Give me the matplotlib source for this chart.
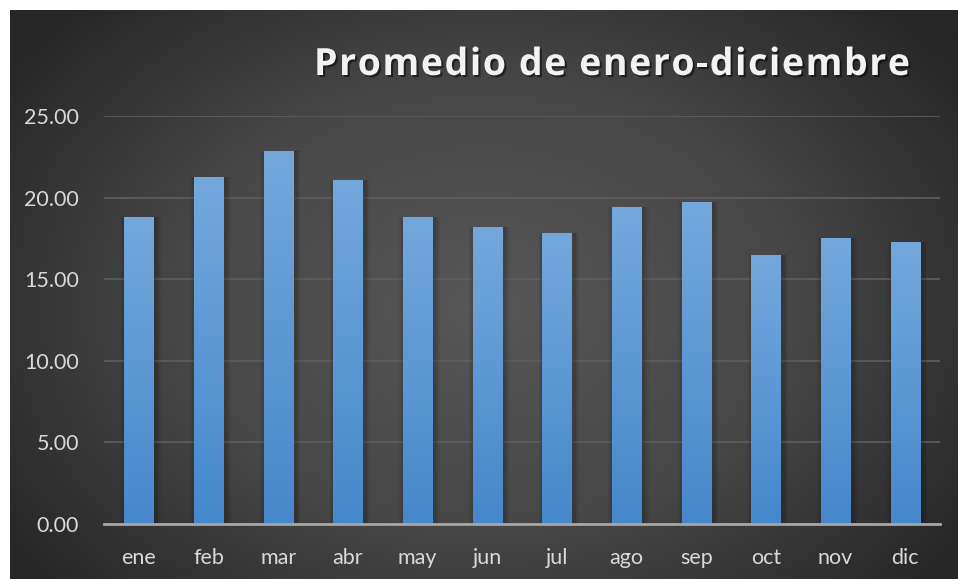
import numpy as np
import matplotlib
matplotlib.use("Agg")
import matplotlib.pyplot as plt
import matplotlib.patheffects as pe
from matplotlib import font_manager
from matplotlib.ft2font import FT2Font
from matplotlib.colors import LinearSegmentedColormap

# datos
meses = ["ene", "feb", "mar", "abr", "may", "jun", "jul", "ago", "sep", "oct", "nov", "dic"]
promedio = [18.81, 21.26, 22.86, 21.08, 18.81, 18.20, 17.83, 19.42, 19.73, 16.48, 17.52, 17.28]
titulo = "Promedio de enero-diciembre"
yticks = [0, 5, 10, 15, 20, 25]

W, H = 958, 579
fig = plt.figure(figsize=(W / 100, H / 100), dpi=100)
fig.patch.set_facecolor("white")

# fondo oscuro con degradado radial
bg = fig.add_axes([10 / W, 0, (W - 10) / W, (H - 10) / H])
bg.set_axis_off()
yy, xx = np.mgrid[0:1:300j, 0:1:500j]
r = np.sqrt(((xx - 0.5) / 0.62) ** 2 + ((yy - 0.52) / 0.75) ** 2)
r = np.clip(r, 0, 1)
cmap_bg = LinearSegmentedColormap.from_list("bg", ["#575757", "#484848", "#262626"])
bg.imshow(r, cmap=cmap_bg, aspect="auto", extent=[0, 1, 0, 1], vmin=0, vmax=1)
bg.set_xlim(0, 1)
bg.set_ylim(0, 1)

ax = fig.add_axes([104 / W, (H - 524) / H, (940 - 104) / W, (524 - 116) / H])
ax.patch.set_alpha(0)
x = np.arange(len(meses))
ancho = 0.42

# sombra de las barras
for k, a in [(0.16, 0.05), (0.11, 0.07), (0.06, 0.09)]:
    ax.bar(x + 0.03, promedio, width=ancho + k, color="black", alpha=a, zorder=2, linewidth=0)

barras = ax.bar(x, promedio, width=ancho, color="#5b9bd5", zorder=3, linewidth=0)
cmap_bar = LinearSegmentedColormap.from_list("bar", ["#4588cb", "#74a8dd"])
grad = np.linspace(0, 1, 256).reshape(-1, 1)
for b in barras:
    x0, y0 = b.get_x(), b.get_y()
    im = ax.imshow(grad, cmap=cmap_bar, origin="lower", aspect="auto",
                   extent=[x0, x0 + b.get_width(), y0, y0 + b.get_height()], zorder=4)
    im.set_clip_path(b)

ax.set_xlim(-0.5, len(meses) - 0.5)
ax.set_ylim(0, 25)
ax.set_yticks(yticks)
ax.set_yticklabels([f"{v:.2f}" for v in yticks])
ax.set_xticks(x)
ax.set_xticklabels(meses)
ax.grid(axis="y", color="#5e5e5e", linewidth=1.2, zorder=1)
ax.set_axisbelow(True)
for s in ["top", "right", "left"]:
    ax.spines[s].set_visible(False)
ax.spines["bottom"].set_color("#a6a6a6")
ax.spines["bottom"].set_linewidth(2)
ax.spines["bottom"].set_zorder(5)
ax.tick_params(axis="both", length=0, labelsize=15.5, labelcolor="#d9d9d9")
ax.tick_params(axis="y", pad=18)
ax.tick_params(axis="x", pad=17)
for t in ax.get_xticklabels() + ax.get_yticklabels():
    t.set_fontfamily("Lato")

# titulo con espaciado entre letras
fs = 27
fprop = font_manager.FontProperties(family="Open Sans", weight="bold")
ft = FT2Font(font_manager.findfont(fprop))
ft.set_size(fs, 100)
avances = [ft.load_char(ord(c)).linearHoriAdvance / 65536 for c in titulo]
x_ini, x_fin = 314, 910
track = (x_fin - x_ini - sum(avances)) / (len(titulo) - 1)
pos = x_ini
for c, adv in zip(titulo, avances):
    if c != " ":
        fig.text(pos / W, 1 - 75 / H, c, ha="left", va="baseline", fontsize=fs,
                 fontproperties=fprop, color="#f2f2f2",
                 path_effects=[pe.withSimplePatchShadow(offset=(1.5, -1.5),
                                                        shadow_rgbFace="black", alpha=0.5)])
    pos += adv + track

fig.savefig("out.png", dpi=100)
